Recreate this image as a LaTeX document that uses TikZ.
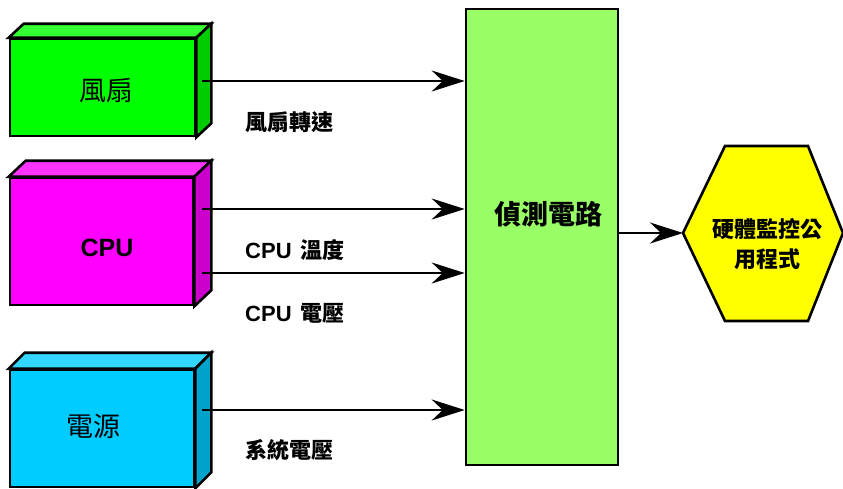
\documentclass[tikz,border=0pt]{standalone}
\usepackage{fontspec}
\usepackage{xcolor}
\usetikzlibrary{arrows.meta}
\setmainfont{Liberation Sans}
\newfontfamily\cjk{Noto Sans CJK TC}
\definecolor{fanfront}{HTML}{00FF00}
\definecolor{fantop}{HTML}{33FF33}
\definecolor{fanside}{HTML}{00CC00}
\definecolor{cpufront}{HTML}{FF00FF}
\definecolor{cputop}{HTML}{FF33FF}
\definecolor{cpuside}{HTML}{CC00CC}
\definecolor{pwrfront}{HTML}{00CCFF}
\definecolor{pwrtop}{HTML}{33D6FF}
\definecolor{pwrside}{HTML}{00A3CC}
\definecolor{detfill}{HTML}{99FF66}
\definecolor{appfill}{HTML}{FFFF00}

\begin{document}
\begin{tikzpicture}[%
  x=1pt, y=-1pt,
  front/.style={draw, line width=2.6pt, inner sep=0pt, line join=miter},
  face/.style={draw, line width=2.6pt, line join=miter},
  flow/.style={line width=2.2pt, -{Stealth[length=33pt,width=21pt,inset=11pt]}},
  slabel/.style={anchor=west, inner sep=0pt, font=\fontsize{22}{22}\selectfont\bfseries\cjk},
  big/.style={font=\fontsize{27}{27}\selectfont\cjk}]
\useasboundingbox (0,0) rectangle (843,488);
\node[front, fill=fanfront, minimum width=185pt, minimum height=97pt] (fan) at (102.5,87.5) {};
\node[front, fill=cpufront, minimum width=183pt, minimum height=127pt] (cpu) at (101.5,241.5) {};
\node[front, fill=pwrfront, minimum width=184pt, minimum height=117pt] (pwr) at (102,428.5) {};
\foreach \n/\dx/\dy in {fan/15/14, cpu/17/16, pwr/16/16} {
	\draw[face, fill=\n top] (\n.north west) -- ++(\dx,-\dy)
		-- ([shift={(\dx,-\dy)}]\n.north east) -- (\n.north east) -- cycle;
	\draw[face, fill=\n side] (\n.north east) -- ([shift={(\dx,-\dy)}]\n.north east)
		-- ([shift={(\dx,-\dy)}]\n.south east) -- (\n.south east) -- cycle;
}
\node[big] at (106,90) {風扇};
\node[font=\fontsize{25}{25}\selectfont\bfseries] at (107,248) {CPU};
\node[big] at (93,426) {電源};
\node[front, fill=detfill, minimum width=152pt, minimum height=456pt] (det) at (542,237) {};
\node[font=\fontsize{27}{27}\selectfont\bfseries\cjk] at (548,214) {偵測電路};
\coordinate (hexw) at (683,233);
\draw[face, fill=appfill] (hexw) -- (725,146) -- (808,146) -- (843,233) -- (808,321) -- (725,321) -- cycle;
\node[align=center, font=\fontsize{22}{30}\selectfont\bfseries\cjk] (app) at (767,244) {硬體監控公\\用程式};
\coordinate (fanout) at (202,81);
\coordinate (tempout) at (202,209);
\coordinate (voltout) at (202,273);
\coordinate (pwrout) at (202,410);
\foreach \c in {fanout, tempout, voltout, pwrout}
	\draw[flow] (\c) -- (\c -| det.west);
\draw[flow] (det.east |- hexw) -- (hexw);
\node[slabel] at (245,122) {風扇轉速};
\node[slabel] at (245,250) {\rmfamily CPU\hspace{9pt}\cjk 溫度};
\node[slabel] at (245,313) {\rmfamily CPU\hspace{9pt}\cjk 電壓};
\node[slabel] at (245,450) {系統電壓};
\end{tikzpicture}
\end{document}
